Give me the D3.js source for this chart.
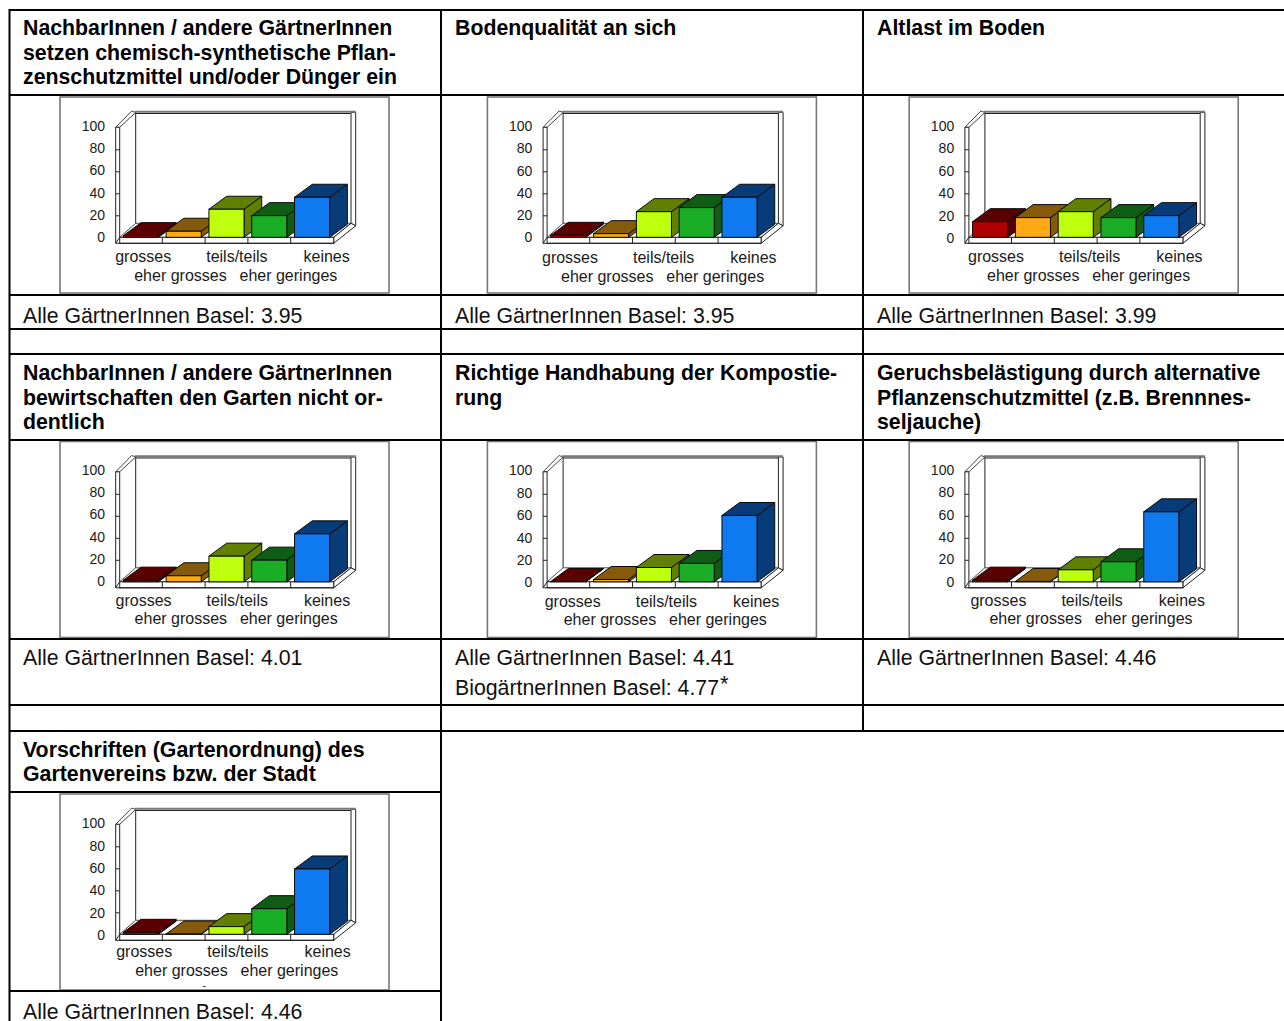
<!DOCTYPE html>
<html>
<head>
<meta charset="utf-8">
<script src="https://cdnjs.cloudflare.com/ajax/libs/d3/7.8.5/d3.min.js"></script>
<style>
  html, body { margin: 0; padding: 0; background: #fff; overflow: hidden; }
  svg { display: block; }
  text { font-family: "Liberation Sans", Arial, sans-serif; }
</style>
</head>
<body>
<div id="chart"></div>
<script>
// answer categories, same for every panel
const categories = ["grosses", "eher grosses", "teils/teils", "eher geringes", "keines"];
const yTicks = [0, 20, 40, 60, 80, 100];

// panel texts
const panelTitles = [
  ["NachbarInnen / andere GärtnerInnen", "setzen chemisch-synthetische Pflan-", "zenschutzmittel und/oder Dünger ein"],
  ["Bodenqualität an sich"],
  ["Altlast im Boden"],
  ["NachbarInnen / andere GärtnerInnen", "bewirtschaften den Garten nicht or-", "dentlich"],
  ["Richtige Handhabung der Kompostie-", "rung"],
  ["Geruchsbelästigung durch alternative", "Pflanzenschutzmittel (z.B. Brennnes-", "seljauche)"],
  ["Vorschriften (Gartenordnung) des", "Gartenvereins bzw. der Stadt"]
];
const panelNotes = [
  ["Alle GärtnerInnen Basel: 3.95"],
  ["Alle GärtnerInnen Basel: 3.95"],
  ["Alle GärtnerInnen Basel: 3.99"],
  ["Alle GärtnerInnen Basel: 4.01"],
  ["Alle GärtnerInnen Basel: 4.41", "BiogärtnerInnen Basel: 4.77"],
  ["Alle GärtnerInnen Basel: 4.46"],
  ["Alle GärtnerInnen Basel: 4.46"]
];

// percentages
const panelValues = [
  [1.5, 5.5, 25.5, 19.7, 36.4],
  [1.8, 3.3, 23.3, 27, 36.4],
  [14.2, 17.9, 23.3, 17.9, 19.7],
  [1.5, 5.5, 23.3, 19.7, 43.6],
  [0.3, 2.1, 13, 16.7, 60.3],
  [1.5, 0.3, 10.9, 18.2, 63.6],
  [1.8, 0.3, 7, 23.3, 59.4]
];

// page layout
const width = 1284;
const height = 1021;
const columnX = [23, 455, 877];
const frameX = [60, 487.4, 909.2, 60, 487.4, 909.2, 60];
const frameY = [97, 97, 97, 441.5, 441.5, 441.5, 794];
const titleY = [35, 35, 35, 380, 380, 380, 757];
const titleStep = [24.5, 24.5, 24.5, 24.5, 24.5, 24.5, 24];
const noteY = [323, 323, 323, 665, 665, 665, 1019];
const labelX = [55.2, 54.6, 58.8, 55.6, 57.3, 61.2, 56.2];
const labelRowY = [[159.7, 178], [160.3, 179.5], [159.7, 178], [159.2, 176.8], [159.5, 177.5], [159.2, 177.2], [157.7, 176]];
const tickLabelY = [[140, 29], [140.5, 29], [141, 29], [140, 28.3], [141, 28.6], [140.3, 28.3], [141.3, 29.3]];
const labelOffset = [0, 19, 91, 124.3, 188.3];
const frameW = 329;
const frameH = 196;

const rowLines = [10, 95, 295, 329, 354, 440, 639, 705, 731];
const shortRowLines = [792, 991];

// bar colours: front face, top face, side face
const faceColors = ["#b00000", "#ffaa14", "#bdff0f", "#1aae26", "#0f7af0"];
const topColors = ["#5a0000", "#855a0a", "#618000", "#0f5c14", "#083c78"];

// plot box inside a frame
const wallOuter = 55.7, wallInner = 59.7;
const backLeft = 75.7, backRight = 291, backRightOuter = 295.7, backTop = 15.5;
const floorY = 140.3, floorBottom = 146.3, floorRight = 273.7;
const depthX = 17.7, depthY = -14, barDepthY = -13;

const svg = d3.select("#chart").append("svg")
  .attr("width", width)
  .attr("height", height)
  .attr("viewBox", `0 0 ${width} ${height}`);

const x = d3.scaleBand()
  .domain(categories)
  .range([59.5, 273.5])
  .paddingInner(0.18)
  .paddingOuter(0.09);

const y = d3.scaleLinear().domain([0, 100]).range([floorY, 30.3]);

const poly = pts => "M" + pts.map(p => p.join(",")).join("L") + "Z";

function drawBox(g) {
  // back wall
  g.append("rect").attr("x", backLeft).attr("y", backTop)
    .attr("width", backRight - backLeft).attr("height", floorY + depthY - backTop)
    .attr("fill", "#fff");
  // left wall
  g.append("path")
    .attr("d", poly([[wallOuter, y(100)], [backLeft - 4, backTop - 1.5], [backLeft, backTop], [wallInner, y(100)]]))
    .attr("fill", "#fff").attr("stroke", "#444").attr("stroke-width", 1);
  g.append("path")
    .attr("d", poly([[wallOuter, y(100)], [wallInner, y(100)], [wallInner, floorY], [wallOuter, floorBottom]]))
    .attr("fill", "#fff").attr("stroke", "#222").attr("stroke-width", 1);
  g.append("line")
    .attr("x1", backLeft).attr("x2", backLeft).attr("y1", backTop).attr("y2", floorY + depthY)
    .attr("stroke", "#222").attr("stroke-width", 1);
  // right wall strip
  g.append("path")
    .attr("d", poly([[backRight, backTop], [backRightOuter, backTop], [backRightOuter, floorY + depthY + 2.5], [backRight, floorY + depthY]]))
    .attr("fill", "#fff").attr("stroke", "#222").attr("stroke-width", 1);
  g.append("line")
    .attr("x1", backLeft - 1).attr("x2", backRightOuter).attr("y1", backTop - 0.7).attr("y2", backTop - 0.7)
    .attr("stroke", "#777").attr("stroke-width", 2);
  g.append("line")
    .attr("x1", backLeft).attr("x2", backRight).attr("y1", backTop + 1).attr("y2", backTop + 1)
    .attr("stroke", "#222").attr("stroke-width", 1);
  // floor plate
  g.append("path")
    .attr("d", poly([[wallInner, floorY], [backLeft, floorY + depthY], [backRight, floorY + depthY], [floorRight, floorY]]))
    .attr("fill", "#fff").attr("stroke", "#222").attr("stroke-width", 0.8);
  g.append("path")
    .attr("d", poly([[floorRight, floorY], [backRight, floorY + depthY], [backRightOuter, floorY + depthY + 2.5], [floorRight, floorBottom]]))
    .attr("fill", "#fff").attr("stroke", "#222").attr("stroke-width", 1);
  g.append("rect")
    .attr("x", wallInner).attr("y", floorY)
    .attr("width", floorRight - wallInner).attr("height", floorBottom - floorY)
    .attr("fill", "#fff").attr("stroke", "#222").attr("stroke-width", 1);
  g.append("line")
    .attr("x1", wallOuter).attr("x2", floorRight).attr("y1", floorBottom).attr("y2", floorBottom)
    .attr("stroke", "#222").attr("stroke-width", 1);
  // dividers on the plate between categories
  g.selectAll("line.divider")
    .data(categories.slice(1))
    .enter().append("line")
    .attr("class", "divider")
    .attr("x1", d => x(d) - x.step() * 0.09)
    .attr("x2", d => x(d) - x.step() * 0.09)
    .attr("y1", floorY).attr("y2", floorBottom)
    .attr("stroke", "#222").attr("stroke-width", 1);
}

function drawBars(g, values) {
  const bars = g.selectAll("g.bar")
    .data(categories.map((c, i) => ({ c, i, v: values[i] })))
    .enter().append("g")
    .attr("class", "bar");

  const w = x.bandwidth();
  bars.append("path")
    .attr("d", d => poly([[x(d.c) + w, y(d.v)], [x(d.c) + w + depthX, y(d.v) + barDepthY], [x(d.c) + w + depthX, floorY + barDepthY], [x(d.c) + w, floorY]]))
    .attr("fill", d => topColors[d.i]);
  bars.append("path")
    .attr("d", d => poly([[x(d.c), y(d.v)], [x(d.c) + depthX, y(d.v) + barDepthY], [x(d.c) + w + depthX, y(d.v) + barDepthY], [x(d.c) + w, y(d.v)]]))
    .attr("fill", d => topColors[d.i]);
  bars.selectAll("path")
    .attr("stroke", "#0a0a0a").attr("stroke-width", 1).attr("stroke-linejoin", "round");
  bars.append("rect")
    .attr("x", d => x(d.c))
    .attr("y", d => y(d.v))
    .attr("width", w)
    .attr("height", d => floorY - y(d.v))
    .attr("fill", d => faceColors[d.i])
    .attr("stroke", "#0a0a0a").attr("stroke-width", 1);
}

function drawPanel(i) {
  const g = svg.append("g").attr("transform", `translate(${frameX[i]},${frameY[i]})`);

  g.append("rect")
    .attr("width", frameW).attr("height", frameH)
    .attr("fill", "#fff").attr("stroke", "#777").attr("stroke-width", 1.6);

  drawBox(g);

  // ticks across the left wall
  const tickAxis = g.append("g")
    .attr("transform", `translate(${wallInner},0)`)
    .call(d3.axisLeft(y).tickValues(yTicks.slice(1, -1)).tickSize(wallInner - wallOuter).tickFormat(""));
  tickAxis.select(".domain").remove();
  tickAxis.selectAll("line").attr("stroke", "#222");

  // tick labels sit a little off the gridding in the source, so they get their own scale
  const labelScale = d3.scaleLinear().domain([0, 100]).range(tickLabelY[i]);
  const labelAxis = g.append("g")
    .attr("transform", `translate(45,0)`)
    .call(d3.axisLeft(labelScale).tickValues(yTicks).tickSize(0).tickPadding(0));
  labelAxis.select(".domain").remove();
  labelAxis.selectAll("text")
    .style("font-family", "'Liberation Sans', Arial, sans-serif")
    .style("font-size", "14px")
    .attr("fill", "#1a1a1a");

  drawBars(g, panelValues[i]);

  // category labels staggered over two rows
  g.selectAll("text.cat")
    .data(categories)
    .enter().append("text")
    .attr("class", "cat")
    .attr("x", (d, k) => labelX[i] + labelOffset[k])
    .attr("y", (d, k) => labelRowY[i][k % 2])
    .attr("dy", "0.35em")
    .style("font-size", "16px")
    .attr("fill", "#1a1a1a")
    .text(d => d);
}

function drawText(i) {
  const col = columnX[i % 3];
  svg.append("g").selectAll("text")
    .data(panelTitles[i])
    .enter().append("text")
    .attr("x", col)
    .attr("y", (d, k) => titleY[i] + k * titleStep[i])
    .style("font-size", "21.3px")
    .style("font-weight", "700")
    .attr("fill", "#000")
    .text(d => d);

  svg.append("g").selectAll("text")
    .data(panelNotes[i])
    .enter().append("text")
    .attr("x", col)
    .attr("y", (d, k) => noteY[i] + k * 30)
    .style("font-size", "21.3px")
    .attr("fill", "#111")
    .text(d => d);
}

panelTitles.forEach((_, i) => {
  drawPanel(i);
  drawText(i);
});

// asterisk on the organic gardeners' value
svg.append("text")
  .attr("x", 720).attr("y", 691)
  .style("font-size", "22px")
  .attr("fill", "#111")
  .text("*");

// stray mark under the last chart
svg.append("text")
  .attr("x", 202.5).attr("y", 989)
  .style("font-size", "11px")
  .attr("fill", "#222")
  .text("-");

// table rules go on top of everything
const rules = svg.append("g").attr("stroke", "#000").attr("stroke-width", 2);
rules.selectAll("line.row")
  .data(rowLines)
  .enter().append("line")
  .attr("class", "row")
  .attr("x1", 9).attr("x2", width).attr("y1", d => d).attr("y2", d => d);
rules.selectAll("line.short")
  .data(shortRowLines)
  .enter().append("line")
  .attr("class", "short")
  .attr("x1", 9).attr("x2", 441).attr("y1", d => d).attr("y2", d => d);
rules.append("line").attr("x1", 9.5).attr("x2", 9.5).attr("y1", 9).attr("y2", height);
rules.append("line").attr("x1", 441).attr("x2", 441).attr("y1", 9).attr("y2", height);
rules.append("line").attr("x1", 863).attr("x2", 863).attr("y1", 9).attr("y2", 732);
</script>
</body>
</html>
